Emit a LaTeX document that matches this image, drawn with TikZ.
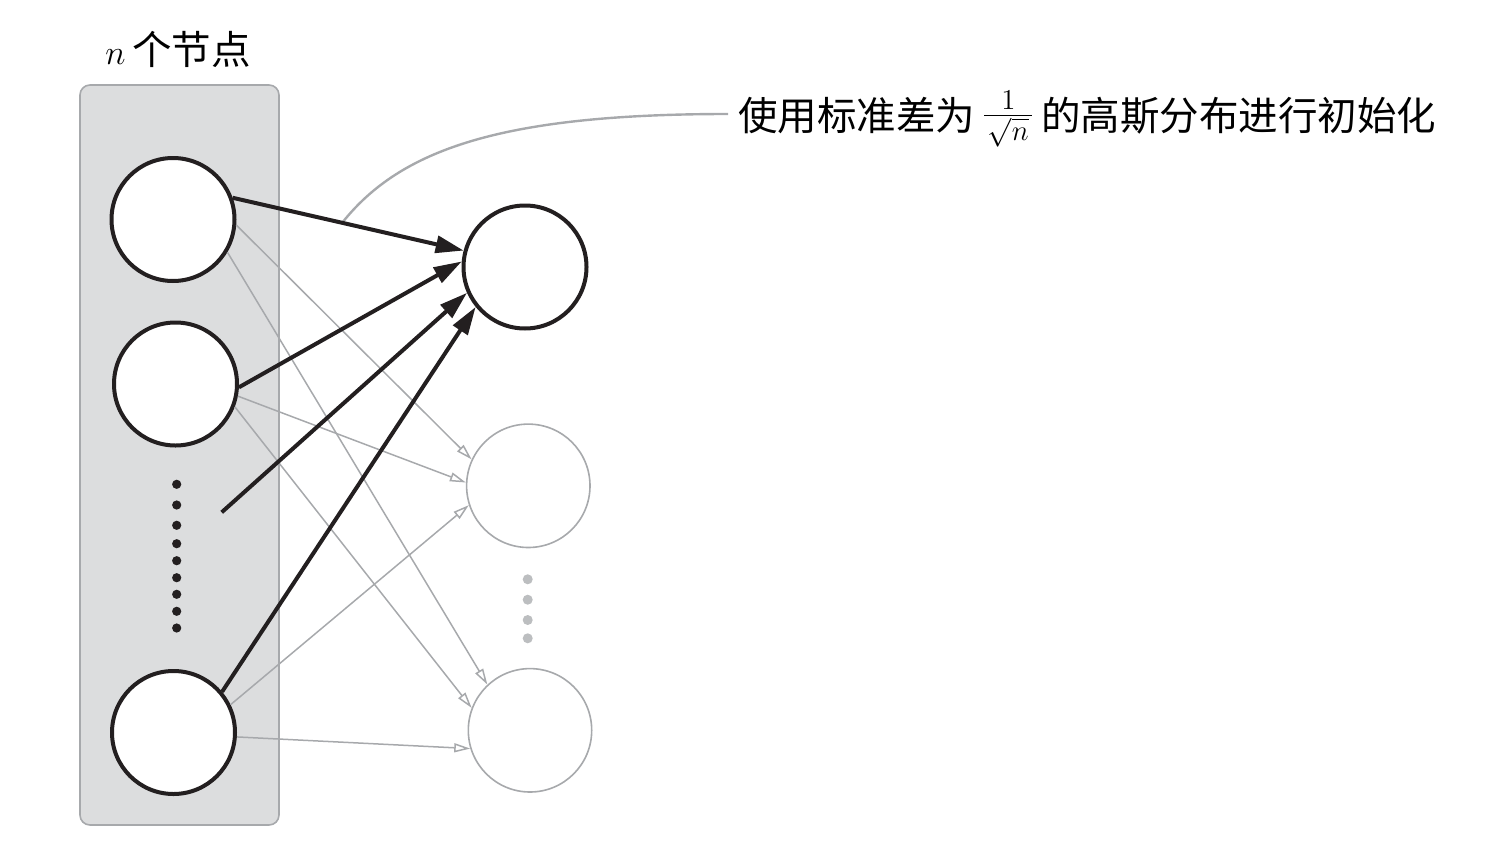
\documentclass[tikz,border=0pt]{standalone}
\usepackage{fontspec}
\newfontfamily\cjk{Noto Sans CJK SC}
\usetikzlibrary{arrows.meta}
\definecolor{ink}{HTML}{231F20}
\definecolor{lgray}{HTML}{A7A9AC}
\definecolor{boxfill}{HTML}{DCDDDE}
\definecolor{dotgray}{HTML}{BCBEC0}
\newcommand{\smallmath}[1]{{\fontsize{17.28pt}{20pt}\selectfont$#1$}}
\tikzset{
  bignode/.style={circle,draw=ink,line width=2pt,fill=white,minimum size=61.5pt,inner sep=0pt},
  ghostnode/.style={circle,draw=lgray,line width=0.8pt,fill=white,minimum size=61.7pt,inner sep=0pt},
  strongedge/.style={draw=ink,line width=2pt,-{Triangle[length=14pt,width=8.5pt]}},
  weakedge/.style={draw=lgray,line width=0.75pt,-{Triangle[open,length=8pt,width=4.5pt]}},
  bdot/.style={circle,fill=ink,inner sep=0pt,minimum size=4.6pt},
  gdot/.style={circle,fill=dotgray,inner sep=0pt,minimum size=5pt},
  layerbox/.style={draw=lgray,fill=boxfill,line width=0.8pt,rounded corners=5pt},
  lbl/.style={font=\fontsize{19.75pt}{24pt}\selectfont\cjk,inner sep=0pt},
  notecurve/.style={draw=lgray,line width=1.2pt}
}
\begin{document}
\begin{tikzpicture}[x=0.5pt,y=-0.5pt]
\useasboundingbox (0,0) rectangle (1503,846);
% layer box
\path[layerbox] (80,85) rectangle (279,825);
\node[lbl,anchor=base west] (title) at (105,64) {\smallmath{n}\,个节点};
% nodes
\node[bignode] (l1) at (173,219.5) {};
\node[bignode] (l2) at (175.5,384) {};
\node[bignode] (l3) at (173.5,732.5) {};
\node[bignode] (r1) at (525,267) {};
\node[ghostnode] (r2) at (528.3,485.8) {};
\node[ghostnode] (r3) at (530,730.3) {};
% gray connections
\draw[weakedge] (l1.-5) -- (r2.155.6);
\draw[weakedge] (l1.-31) -- (r3.133.8);
\draw[weakedge] (l2.-11.7) -- (r2.177.7);
\draw[weakedge] (l2.-21) -- (r3.159.6);
\draw[weakedge] (l3.26.4) -- (r2.198.6);
\draw[weakedge] (l3.-4) -- (r3.197.6);
% annotation
\path (l1.20.8) -- (r1.165) coordinate[pos=0.474] (tap);
\coordinate (noteend) at (728,114);
\draw[notecurve] (tap) .. controls (400,150) and (500,114) .. (noteend);
\node[lbl,anchor=base west] (note) at (738,130) {使用标准差为\,\raisebox{2pt}{$\frac{1}{\kern1.8pt\sqrt{n}\kern1.8pt}$}\,的高斯分布进行初始化};
% black connections
\coordinate (freeend) at (221.7,512.3);
\draw[strongedge] (l1.20.8) -- (r1.165);
\draw[strongedge] (l2.-3.7) -- (r1.175);
\draw[strongedge] (freeend) -- (r1.204);
\draw[strongedge] (l3.40.6) -- (r1.219);
% dots
\foreach \yy [count=\i] in {484.3,505,525.3,543.7,560.7,577.7,594.3,611.3,628}
  \node[bdot] (bd\i) at (176.7,\yy) {};
\foreach \yy [count=\i] in {579.3,599.7,620,638.3}
  \node[gdot] (gd\i) at (527.7,\yy) {};
\end{tikzpicture}
\end{document}
